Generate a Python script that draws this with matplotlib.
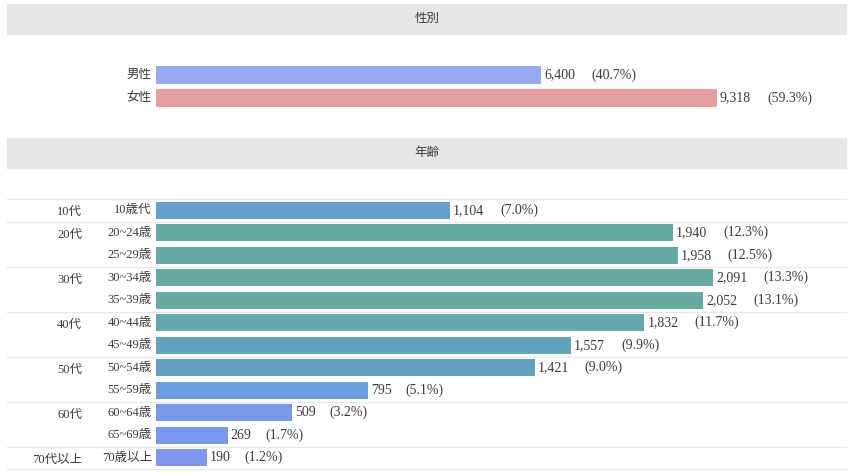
import matplotlib.pyplot as plt
from matplotlib.patches import Rectangle

plt.rcParams['font.family'] = ['Liberation Serif', 'Noto Sans CJK JP', 'DejaVu Sans']

# データ
gender_labels = ['男性', '女性']
gender_values = [6400, 9318]
gender_pct = ['40.7%', '59.3%']
gender_colors = ['#97a9f2', '#e4a09e']

age_labels = ['10歳代', '20~24歳', '25~29歳', '30~34歳', '35~39歳', '40~44歳',
              '45~49歳', '50~54歳', '55~59歳', '60~64歳', '65~69歳', '70歳以上']
age_values = [1104, 1940, 1958, 2091, 2052, 1832, 1557, 1421, 795, 509, 269, 190]
age_pct = ['7.0%', '12.3%', '12.5%', '13.3%', '13.1%', '11.7%',
           '9.9%', '9.0%', '5.1%', '3.2%', '1.7%', '1.2%']
age_colors = ['#66a0cd', '#66aaa7', '#66aaa7', '#67aaa4', '#67aaa4', '#65a8b2',
              '#62a4bc', '#62a1c0', '#6c9ddd', '#7898ea', '#7a97ef', '#7f97f3']
group_labels = ['10代', '20代', '30代', '40代', '50代', '60代', '70代以上']
group_start = [0, 1, 3, 5, 7, 9, 11]

W, H = 854, 474
fig = plt.figure(figsize=(W / 100, H / 100), dpi=100)
TXT = '#3a3a3a'


def px_axes(x0, y0, x1, y1):
    ax = fig.add_axes([x0 / W, 1 - y1 / H, (x1 - x0) / W, (y1 - y0) / H])
    ax.axis('off')
    return ax


# 見出しの帯
for top, title in [(4, '性別'), (138, '年齢')]:
    fig.patches.append(Rectangle((7 / W, 1 - (top + 30) / H), 839 / W, 30 / H,
                                 transform=fig.transFigure, color='#e6e6e6', zorder=0))
    fig.text(427 / W, 1 - (top + 15) / H, title, ha='center', va='center',
             fontsize=9, color=TXT)


def draw_bars(ax, labels, values, pct, colors, xmax, gap):
    n = len(values)
    ax.set_xlim(0, xmax)
    ax.set_ylim(n - 0.5, -0.5)
    ax.barh(range(n), values, height=0.75, color=colors, zorder=2)
    for i, (lab, v, p) in enumerate(zip(labels, values, pct)):
        ax.text(-0.006, i, lab, transform=ax.get_yaxis_transform(), ha='right',
                va='center', fontsize=9, color=TXT)
        ax.annotate(f'{v:,}', (v, i), xytext=(3, 0), textcoords='offset pixels',
                    ha='left', va='center', fontsize=10, color=TXT)
        digits = len(f'{v:,}')
        ax.annotate(f'({p})', (v, i), xytext=(3 + digits * 6.2 + gap, 0),
                    textcoords='offset pixels', ha='left', va='center',
                    fontsize=10, color=TXT)


# 性別
ax1 = px_axes(156, 63.5, 846, 109.5)
draw_bars(ax1, gender_labels, gender_values, gender_pct, gender_colors, 11462, 16)

# 年齢
ax2 = px_axes(156, 199, 846, 469)
draw_bars(ax2, age_labels, age_values, age_pct, age_colors, 2589, 16)

xmin_line = (7 - 156) / 690
for b in group_start + [len(age_values)]:
    ax2.axhline(b - 0.5, xmin=xmin_line, xmax=1, color='#e8e8e8', lw=1,
                clip_on=False, zorder=0)
for g, s in zip(group_labels, group_start):
    ax2.text(-0.107, s + 0.08, g, transform=ax2.get_yaxis_transform(), ha='right',
             va='center', fontsize=9, color=TXT)

fig.savefig('out.png', dpi=100)
